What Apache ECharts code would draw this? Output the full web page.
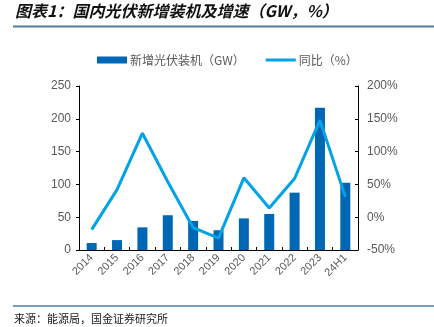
<!DOCTYPE html>
<html>
<head>
<meta charset="utf-8">
<script src="https://cdn.jsdelivr.net/npm/echarts@6/dist/echarts.min.js"></script>
<style>
html,body{margin:0;padding:0;background:#fff;}
#chart{width:434px;height:327px;}
</style>
</head>
<body>
<div id="chart"></div>
<script>
// Annual domestic PV additions (GW) and year-on-year growth (%)
const categories = ['2014','2015','2016','2017','2018','2019','2020','2021','2022','2023','24H1'];
const newCapacity = [10.6, 15.1, 34.5, 53.0, 44.3, 30.1, 48.2, 54.9, 87.4, 216.9, 102.5];
const yoyGrowth = [-19, 42, 128, 54, -16, -32, 60, 14, 59, 148, 31];
const leftTicks = [0, 50, 100, 150, 200, 250];
const rightTicks = [-50, 0, 50, 100, 150, 200];

const font = '"Liberation Sans", Arial, sans-serif';
const cjk = '"Noto Sans CJK SC", sans-serif';

const chart = echarts.init(document.getElementById('chart'), null, {renderer: 'canvas'});
chart.setOption({
  animation: false,
  backgroundColor: '#fff',
  graphic: [
    {type: 'text', left: 15, top: 3, style: {text: '图表1：国内光伏新增装机及增速（GW，%）', font: 'italic bold 16px ' + cjk, fill: '#111'}},
    {type: 'line', shape: {x1: 13, y1: 26.5, x2: 434, y2: 26.5}, style: {stroke: '#4F7C9C', lineWidth: 2}},
    {type: 'line', shape: {x1: 13, y1: 306, x2: 434, y2: 306}, style: {stroke: '#4F7C9C', lineWidth: 1.5}},
    {type: 'text', left: 14, top: 313, style: {text: '来源：能源局，国金证券研究所', font: '11px ' + cjk, fill: '#222'}}
  ],
  legend: {
    top: 49,
    left: 92,
    itemGap: 21,
    itemWidth: 30,
    itemHeight: 7,
    textStyle: {fontFamily: cjk, fontSize: 12, color: '#595959', padding: [0, 0, 0, -2]},
    data: [
      {name: '新增光伏装机（GW）', icon: 'rect'},
      {name: '同比（%）', icon: 'path://M0,0H30V3H0Z'}
    ]
  },
  grid: {left: 79, right: 76, top: 86, bottom: 77, containLabel: false},
  xAxis: {
    type: 'category',
    data: categories,
    axisLine: {lineStyle: {color: '#000', width: 1}},
    axisTick: {show: true, inside: true, length: 3, lineStyle: {color: '#000'}},
    axisLabel: {rotate: 45, color: '#595959', fontFamily: font, fontSize: 11, margin: 6}
  },
  yAxis: [
    {
      type: 'value', min: 0, max: 250, interval: 50,
      axisLine: {show: true, lineStyle: {color: '#000'}},
      axisTick: {show: true, length: 3, lineStyle: {color: '#000'}},
      splitLine: {show: false},
      axisLabel: {color: '#595959', fontFamily: font, fontSize: 12, margin: 8,
        formatter: v => leftTicks.includes(v) ? String(v) : ''}
    },
    {
      type: 'value', min: -50, max: 200, interval: 50,
      axisLine: {show: true, lineStyle: {color: '#000'}},
      axisTick: {show: true, inside: true, length: 3, lineStyle: {color: '#000'}},
      splitLine: {show: false},
      axisLabel: {color: '#595959', fontFamily: font, fontSize: 12, margin: 9,
        formatter: v => rightTicks.includes(v) ? v + '%' : ''}
    }
  ],
  series: [
    {
      name: '新增光伏装机（GW）',
      type: 'bar',
      yAxisIndex: 0,
      data: newCapacity,
      barWidth: 10,
      itemStyle: {color: '#0067B4'}
    },
    {
      name: '同比（%）',
      type: 'line',
      yAxisIndex: 1,
      data: yoyGrowth,
      symbol: 'none',
      lineStyle: {color: '#00A2E8', width: 3},
      itemStyle: {color: '#00A2E8'}
    }
  ]
});
</script>
</body>
</html>
